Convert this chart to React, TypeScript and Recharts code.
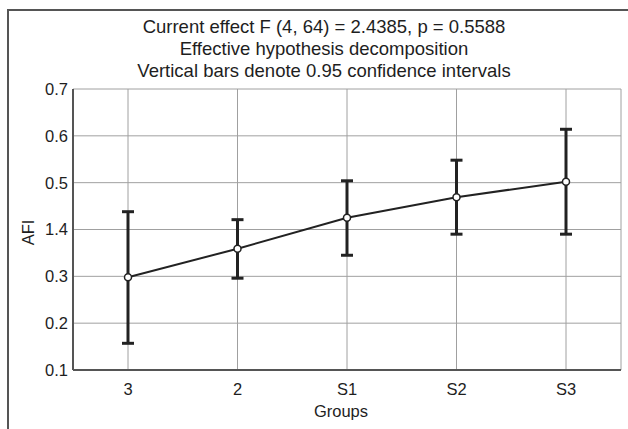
import React from 'react';
import { LineChart, Line, XAxis, YAxis, CartesianGrid, ErrorBar } from 'recharts';

const groups = ['3', '2', 'S1', 'S2', 'S3'];
const means = [0.298, 0.359, 0.425, 0.469, 0.502];
const lowers = [0.157, 0.296, 0.345, 0.39, 0.39];
const uppers = [0.438, 0.421, 0.504, 0.548, 0.614];
const yTicks = [0.1, 0.2, 0.3, 0.4, 0.5, 0.6, 0.7];
const yTickLabels = ['0.1', '0.2', '0.3', '1.4', '0.5', '0.6', '0.7'];
const titleLines = [
  'Current effect F (4, 64) = 2.4385, p = 0.5588',
  'Effective hypothesis decomposition',
  'Vertical bars denote 0.95 confidence intervals',
];
const xTitle = 'Groups';
const yTitle = 'AFI';

const data = groups.map((g, i) => ({
  group: g,
  mean: means[i],
  err: [means[i] - lowers[i], uppers[i] - means[i]],
}));

const FONT = '"Liberation Sans", Arial, sans-serif';
const INK = '#222';
const TEXT = '#1e1e1e';

export default function App() {
  return (
    <div style={{ position: 'relative', width: 628, height: 429, overflow: 'hidden', background: '#fff' }}>
      <style>{`body{margin:0;overflow:hidden;background:#fff}`}</style>
      <div
        style={{
          position: 'absolute',
          left: 7,
          top: 9,
          width: 700,
          height: 500,
          borderLeft: '2px solid #555',
          borderTop: '2px solid #555',
        }}
      />
      <div
        style={{
          position: 'absolute',
          left: 0,
          top: 16,
          width: 648,
          textAlign: 'center',
          fontFamily: FONT,
          fontSize: 18.5,
          lineHeight: '22.2px',
          color: TEXT,
        }}
      >
        {titleLines.map((t) => (
          <div key={t}>{t}</div>
        ))}
      </div>
      <div style={{ position: 'absolute', left: 0, top: 0 }}>
        <LineChart
          width={628}
          height={429}
          data={data}
          margin={{ top: 89, right: 7, bottom: 0, left: 0 }}
          style={{ fontFamily: FONT }}
        >
          <CartesianGrid stroke="#a0a0a0" strokeWidth={1} />
          <XAxis
            dataKey="group"
            padding={{ left: 55, right: 55 }}
            height={59}
            tickSize={0}
            tickMargin={13}
            tickLine={false}
            axisLine={{ stroke: '#555', strokeWidth: 2 }}
            tick={{ fontSize: 16.5, fill: TEXT, fontFamily: FONT }}
            label={{
              content: (p: any) => {
                const vb = p.viewBox;
                return (
                  <text
                    x={vb.x + vb.width / 2 - 6}
                    y={vb.y + 47}
                    textAnchor="middle"
                    fontSize={16.5}
                    fill={TEXT}
                    fontFamily={FONT}
                  >
                    {xTitle}
                  </text>
                );
              },
            }}
          />
          <XAxis
            xAxisId="top"
            dataKey="group"
            orientation="top"
            height={0}
            tick={false}
            tickLine={false}
            axisLine={{ stroke: '#555', strokeWidth: 2 }}
          />
          <YAxis
            domain={[0.1, 0.7]}
            ticks={yTicks}
            width={73}
            tickSize={0}
            tickMargin={5}
            tickLine={false}
            interval={0}
            axisLine={{ stroke: '#555', strokeWidth: 2 }}
            tick={{ fontSize: 16.5, fill: TEXT, fontFamily: FONT }}
            tickFormatter={(v: number, i: number) => yTickLabels[i] ?? String(v)}
            label={{
              content: (p: any) => {
                const vb = p.viewBox;
                const cx = vb.x + 28;
                const cy = vb.y + vb.height / 2 + 3;
                return (
                  <text
                    x={cx}
                    y={cy}
                    transform={`rotate(-90 ${cx} ${cy})`}
                    textAnchor="middle"
                    dominantBaseline="central"
                    fontSize={16.5}
                    fill={TEXT}
                    fontFamily={FONT}
                  >
                    {yTitle}
                  </text>
                );
              },
            }}
          />
          <YAxis
            yAxisId="right"
            orientation="right"
            domain={[0.1, 0.7]}
            width={0}
            tick={false}
            tickLine={false}
            axisLine={{ stroke: '#555', strokeWidth: 2 }}
          />
          <Line
            dataKey="mean"
            stroke={INK}
            strokeWidth={2}
            isAnimationActive={false}
            dot={{ r: 3.5, fill: '#fff', stroke: INK, strokeWidth: 1.5 }}
            activeDot={false}
          >
            <ErrorBar dataKey="err" direction="y" width={6} stroke={INK} strokeWidth={3} isAnimationActive={false} />
          </Line>
        </LineChart>
      </div>
    </div>
  );
}
